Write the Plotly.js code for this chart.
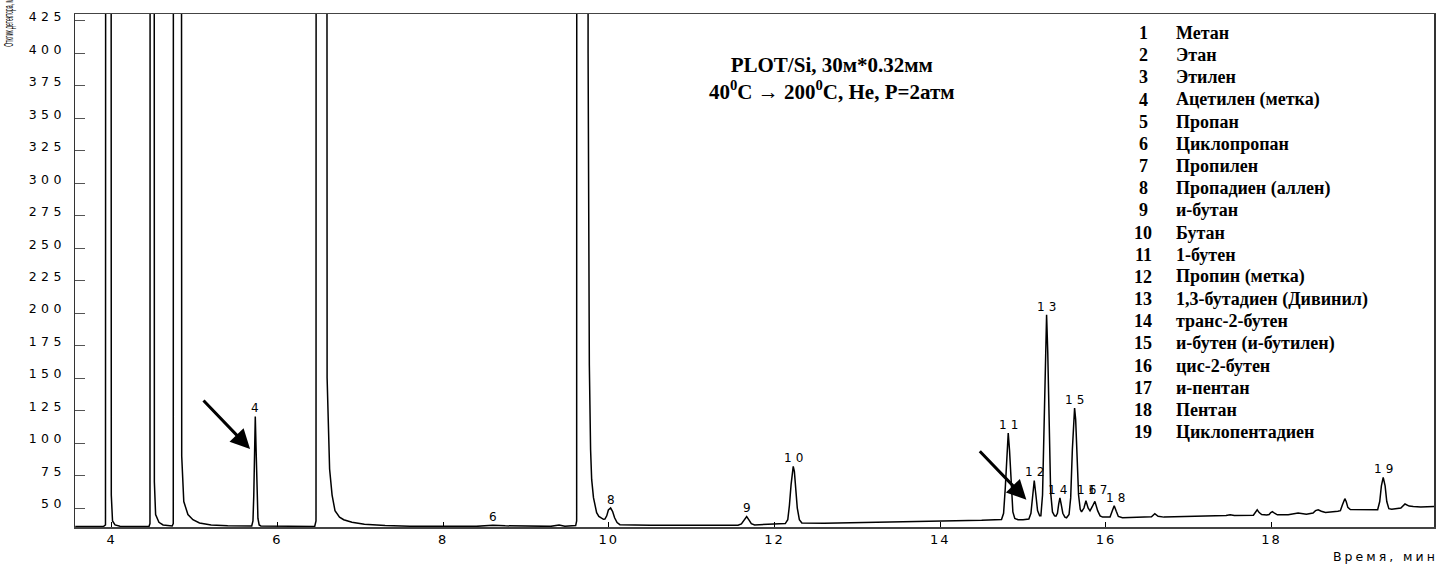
<!DOCTYPE html>
<html>
<head>
<meta charset="utf-8">
<script src="https://cdn.plot.ly/plotly-3.0.1.min.js"></script>
<style>
  html, body { margin: 0; padding: 0; background: #fff; }
  #chart { width: 1440px; height: 564px; }
  .xtick text { letter-spacing: 2px; }
  .ytick text { letter-spacing: 4.5px; }
</style>
</head>
<body>
<div id="chart"></div>
<script>
// Digitized chromatogram (time, min ; detector response, mV). Values above 430 are off-scale estimates.
const times = [
  3.56,3.90,3.925,3.935,3.985,3.995,4.01,4.04,4.10,
  4.45,4.462,4.47,4.505,4.515,4.53,4.57,4.62,
  4.73,4.743,4.75,4.83,4.845,4.87,4.92,4.98,5.06,5.2,5.4,
  5.69,5.705,5.715,5.724,5.733,5.742,5.752,5.765,5.78,5.80,
  6.45,6.466,6.475,6.585,6.60,6.63,6.66,6.695,6.75,6.8,6.9,7.05,7.3,7.6,
  8.4,8.5,8.6,8.75,9.0,9.30,9.40,9.47,
  9.60,9.612,9.62,9.742,9.75,9.765,9.78,9.793,9.815,9.835,9.853,9.88,9.91,9.935,9.953,
  9.975,9.995,10.022,10.045,10.07,10.10,10.134,10.5,11.0,
  11.56,11.60,11.63,11.664,11.695,11.72,11.76,
  12.10,12.13,12.16,12.18,12.20,12.215,12.226,12.24,12.255,12.275,12.30,12.33,12.6,13.0,13.5,14.0,14.5,
  14.74,14.765,14.785,14.805,14.821,14.837,14.857,14.877,14.90,14.94,15.0,
  15.07,15.095,15.115,15.135,15.155,15.175,15.20,
  15.215,15.235,15.255,15.27,15.284,15.298,15.313,15.333,15.355,15.38,15.397,
  15.415,15.43,15.445,15.46,15.48,15.505,15.525,
  15.555,15.575,15.595,15.61,15.622,15.635,15.65,15.67,15.69,15.706,
  15.735,15.759,15.785,15.808,15.835,15.867,15.90,15.93,15.96,
  16.05,16.075,16.10,16.125,16.15,16.2,16.5,16.55,16.59,16.63,16.7,
  17.3,17.45,17.5,17.55,17.78,17.80,17.826,17.85,17.88,17.94,17.97,17.99,18.01,18.035,18.07,18.2,
  18.32,18.42,18.50,18.53,18.562,18.60,18.65,18.80,18.83,18.855,18.872,18.884,18.90,18.92,18.95,
  19.25,19.28,19.305,19.325,19.347,19.37,19.39,19.415,19.45,19.56,19.61,19.66,19.71,19.8,19.96
];
const signal = [
  35.8,35.8,37,2500,2500,60,40,37,36,
  35.8,38,2500,2500,70,45,39,37,
  36.2,38,2500,2500,90,55,45,41,38.5,37,36.3,
  36.2,40,60,95,120.5,97,62,42,37,36.2,
  35.8,40,3000,3000,150,80,60,48,43,41,39,37.5,36.5,36,
  35.9,36.2,36.7,36.3,36.0,35.9,37,36,
  36.5,40,3000,3000,400,160,95,72,58,50,46.4,43.5,42,41.3,41.5,
  44,48.5,50,47.5,42.5,38.8,37.2,36.8,36.5,
  36.7,37.8,40.5,43.5,40.5,38,37,
  37.5,38,41,52,68,78,82,78,67,50,41,38.5,38.3,38.7,39.3,39.8,40.5,
  41.2,46,65,93,107.7,94,66,47,42,41,41,
  41.5,46,60,71.2,60,48,44,
  44,60,120,170,198.7,170,120,62,47,44,43.8,
  46,53,57.7,53,46,43,42.5,
  45,58,95,118,126.9,118,95,60,49,47,
  50,55.6,50,47.8,51,55.1,48,44,43,
  43,47.5,51.8,47.5,43.5,42.6,42.8,43.3,45.6,43.6,43,
  43.5,44.2,44.8,44.3,44.5,46.5,48.7,46.5,45,44.6,45,46.5,47.2,46,44.8,44.8,
  46.2,45.3,46.2,48,48.7,47.5,46.5,47.5,48,52.5,56,57.2,55,50.5,48.8,
  48.5,48.7,55,67,73.6,67,55,49.5,49,50,53.1,51.5,51.2,50.8,51.2
];

// Peak labels on the chromatogram
const peakNums = ["4","6","8","9","10","11","12","13","14","15","16","17","18","19"];
const peakTimes = [5.733,8.60,10.022,11.664,12.226,14.821,15.135,15.284,15.42,15.622,15.76,15.90,16.12,19.347];
const peakHeights = [120.5,36.7,50.0,43.5,82.0,107.7,71.2,198.7,57.7,126.9,57.5,57.5,51.8,73.6];

// Component list
const compNums = ["1","2","3","4","5","6","7","8","9","10","11","12","13","14","15","16","17","18","19"];
const compNames = ["Метан","Этан","Этилен","Ацетилен (метка)","Пропан","Циклопропан","Пропилен","Пропадиен (аллен)","и-бутан","Бутан","1-бутен","Пропин (метка)","1,3-бутадиен (Дивинил)","транс-2-бутен","и-бутен (и-бутилен)","цис-2-бутен","и-пентан","Пентан","Циклопентадиен"];

// Arrow tips (marker peaks 4 and 12)
const arrowTimes = [5.67, 15.04];
const arrowValues = [95.4, 56.4];

const xTicks = [4,6,8,10,12,14,16,18];
const yTicks = [50,75,100,125,150,175,200,225,250,275,300,325,350,375,400,425];

const titleLines = ["PLOT/Si, 30м*0.32мм", "40<sup>0</sup>C → 200<sup>0</sup>C, He, P=2атм"];
const xTitle = "Время, мин";
const yTitle = "Отклик детектора, мВ";

// layout geometry
const W = 1440, H = 564, ML = 75, MR = 6, MT = 14, MB = 37;
const PW = W - ML - MR, PH = H - MT - MB;
const px = v => (v - ML) / PW;
const py = v => (H - MB - v) / PH;

const sans = "Liberation Sans, Arial, sans-serif";
const wide = "DejaVu Sans, Liberation Sans, sans-serif";
const serif = "Liberation Serif, Times New Roman, serif";

const annotations = [];

peakNums.forEach((n, i) => {
  annotations.push({
    x: peakTimes[i], y: peakHeights[i], xref: 'x', yref: 'y',
    text: '<span style="letter-spacing:4px">' + n + '</span>',
    showarrow: false, xanchor: 'center', yanchor: 'bottom', yshift: -1, xshift: 2,
    font: {family: wide, size: 12, color: '#000'}
  });
});

arrowTimes.forEach((t, i) => {
  annotations.push({
    x: t, y: arrowValues[i], xref: 'x', yref: 'y', text: '',
    showarrow: true, ax: -48, ay: -50, axref: 'pixel', ayref: 'pixel',
    arrowhead: 2, arrowsize: 1.3, arrowwidth: 3, arrowcolor: '#000', standoff: 0
  });
});

compNums.forEach((n, i) => {
  const yy = 33 + i * 22.17;
  annotations.push({
    x: px(1143), y: py(yy), xref: 'paper', yref: 'paper', text: n,
    showarrow: false, xanchor: 'center', yanchor: 'middle',
    font: {family: serif, size: 18, color: '#000', weight: 'bold'}
  });
  annotations.push({
    x: px(1174), y: py(yy), xref: 'paper', yref: 'paper', text: compNames[i],
    showarrow: false, xanchor: 'left', yanchor: 'middle',
    font: {family: serif, size: 18, color: '#000', weight: 'bold'}
  });
});

annotations.push({
  x: px(832), y: py(78), xref: 'paper', yref: 'paper',
  text: titleLines.join('<br>'), showarrow: false, xanchor: 'center', yanchor: 'middle',
  align: 'center', font: {family: serif, size: 21, color: '#000', weight: 'bold'}
});

annotations.push({
  x: px(1440), y: py(557), xref: 'paper', yref: 'paper',
  text: '<span style="letter-spacing:3px">' + xTitle + '</span>', showarrow: false,
  xanchor: 'right', yanchor: 'middle', font: {family: wide, size: 12.5, color: '#000'}
});

const yTitleIndex = annotations.length;
annotations.push({
  x: px(9), y: py(21), xref: 'paper', yref: 'paper', text: yTitle,
  showarrow: false, textangle: -90, xanchor: 'center', yanchor: 'middle',
  font: {family: sans, size: 12, color: '#000'}
});

// compress the rotated y title along its length, as in the reference
const st = document.createElement('style');
st.textContent = '.annotation[data-index="' + yTitleIndex + '"] text.annotation-text {' +
  'transform-box: fill-box; transform-origin: center; transform: scaleX(0.42); }';
document.head.appendChild(st);

const trace = {
  x: times, y: signal, type: 'scatter', mode: 'lines',
  line: {color: '#000', width: 1.5}, hoverinfo: 'skip'
};

const layout = {
  width: W, height: H,
  margin: {l: ML, r: MR, t: MT, b: MB, pad: 0},
  paper_bgcolor: '#fff', plot_bgcolor: '#fff',
  showlegend: false,
  xaxis: {
    range: [3.557, 19.96], tickvals: xTicks, ticks: 'inside', ticklen: 5, tickwidth: 1,
    tickcolor: '#000', showgrid: false, zeroline: false, showline: true, mirror: true,
    linecolor: '#444', linewidth: 1.5,
    tickfont: {family: wide, size: 13, color: '#000'}
  },
  yaxis: {
    range: [35.4, 430.2], tickvals: yTicks, ticks: 'inside', ticklen: 10, tickwidth: 1,
    tickcolor: '#555', showgrid: false, zeroline: false, showline: true, mirror: true,
    linecolor: '#333', linewidth: 1.5, ticklabelstandoff: 5, ticklabelshift: -4,
    tickfont: {family: wide, size: 12.5, color: '#000'}
  },
  annotations: annotations
};

Plotly.newPlot('chart', [trace], layout, {displayModeBar: false, staticPlot: true});
</script>
</body>
</html>
